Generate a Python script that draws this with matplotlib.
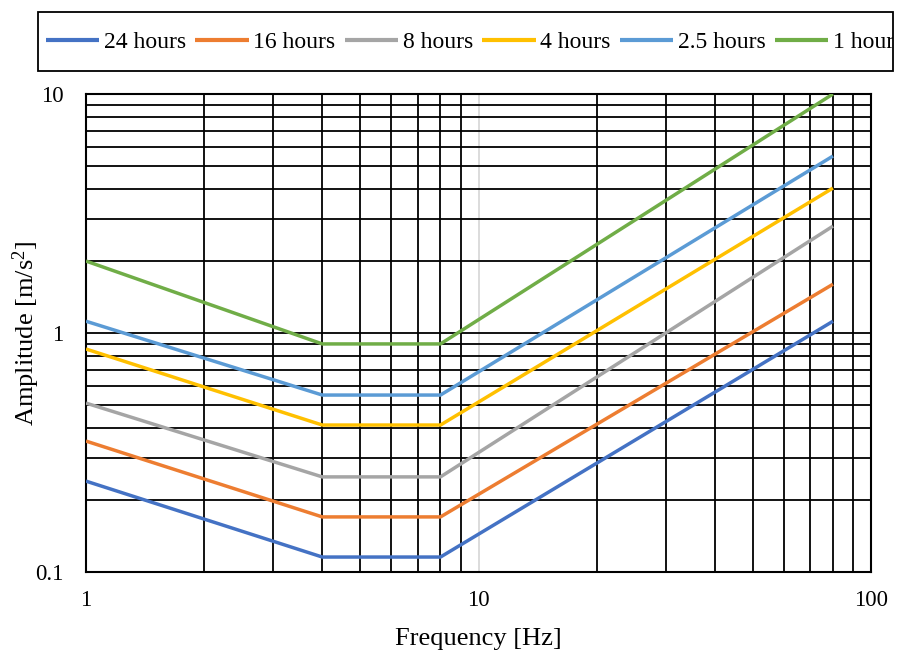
import matplotlib
matplotlib.use("Agg")
import matplotlib.pyplot as plt
from matplotlib.ticker import LogLocator, FuncFormatter, NullFormatter
from matplotlib.patches import Rectangle
from matplotlib.transforms import Bbox

plt.rcParams['font.family'] = ['Liberation Serif', 'DejaVu Serif']
plt.rcParams['mathtext.fontset'] = 'custom'
plt.rcParams['mathtext.rm'] = 'Liberation Serif'
plt.rcParams['mathtext.it'] = 'Liberation Serif:italic'

freq = [1, 4, 8, 80]
series_names = ["24 hours", "16 hours", "8 hours", "4 hours", "2.5 hours", "1 hours"]
amp_24h = [0.24, 0.1155, 0.1155, 1.12]
amp_16h = [0.353, 0.170, 0.170, 1.60]
amp_8h = [0.509, 0.250, 0.250, 2.80]
amp_4h = [0.857, 0.412, 0.412, 4.04]
amp_2_5h = [1.12, 0.55, 0.55, 5.5]
amp_1h = [2.0, 0.90, 0.90, 10.0]
colors = ["#4472C4", "#ED7D31", "#A5A5A5", "#FFC000", "#5B9BD5", "#70AD47"]

W, H = 899, 657
fig = plt.figure(figsize=(W/100, H/100), dpi=100)
ax = fig.add_axes([86/W, 1-572/H, (871-86)/W, (572-94)/H])

handles = []
for name, vals, c in zip(series_names, [amp_24h, amp_16h, amp_8h, amp_4h, amp_2_5h, amp_1h], colors):
    h, = ax.plot(freq, vals, color=c, lw=2.5, label=name, solid_capstyle='butt', zorder=3)
    handles.append(h)

ax.set_xscale('log')
ax.set_yscale('log')
ax.set_xlim(1, 100)
ax.set_ylim(0.1, 10)

ax.xaxis.set_major_locator(LogLocator(base=10, numticks=10))
ax.xaxis.set_minor_locator(LogLocator(base=10, subs=range(2, 10), numticks=20))
ax.yaxis.set_major_locator(LogLocator(base=10, numticks=10))
ax.yaxis.set_minor_locator(LogLocator(base=10, subs=range(2, 10), numticks=20))
fmt = FuncFormatter(lambda v, p: f"{v:g}")
ax.xaxis.set_major_formatter(fmt)
ax.yaxis.set_major_formatter(fmt)
ax.xaxis.set_minor_formatter(NullFormatter())
ax.yaxis.set_minor_formatter(NullFormatter())

ax.grid(True, axis='x', which='major', color='#D9D9D9', lw=1.3)
ax.grid(True, axis='x', which='minor', color='black', lw=1.3)
ax.grid(True, axis='y', which='both', color='black', lw=1.3)
ax.set_axisbelow(True)
for s in ax.spines.values():
    s.set_color('black')
    s.set_linewidth(1.5)

ax.tick_params(axis='both', which='both', length=0, labelsize=16.5)
ax.tick_params(axis='x', pad=13)
ax.tick_params(axis='y', pad=16)

ax.set_xlabel("Frequency [Hz]", fontsize=19, labelpad=12)
ax.set_ylabel("Amplitude [m/s$^2$]", fontsize=19)
ax.yaxis.set_label_coords(-44/785, 0.5)

# legend box
box_x0, box_y0, box_x1, box_y1 = 38, 12, 893, 71
fig.patches.append(Rectangle((box_x0/W, 1-box_y1/H), (box_x1-box_x0)/W, (box_y1-box_y0)/H,
                             transform=fig.transFigure, fill=False, ec='black', lw=1.3))
leg = fig.legend(handles=handles, loc='center left', bbox_to_anchor=(46/W, 1-42/H),
                 ncol=6, frameon=False, fontsize=17, handlelength=2.25, handletextpad=0.2,
                 columnspacing=0.4, borderpad=0, borderaxespad=0)
for l in leg.get_lines():
    l.set_linewidth(3)
clip = Bbox.from_extents(box_x0, H-box_y1, box_x1, H-box_y0)
for t in leg.get_texts():
    t.set_clip_box(clip)
    t.set_clip_on(True)

fig.savefig("out.png", dpi=100)
